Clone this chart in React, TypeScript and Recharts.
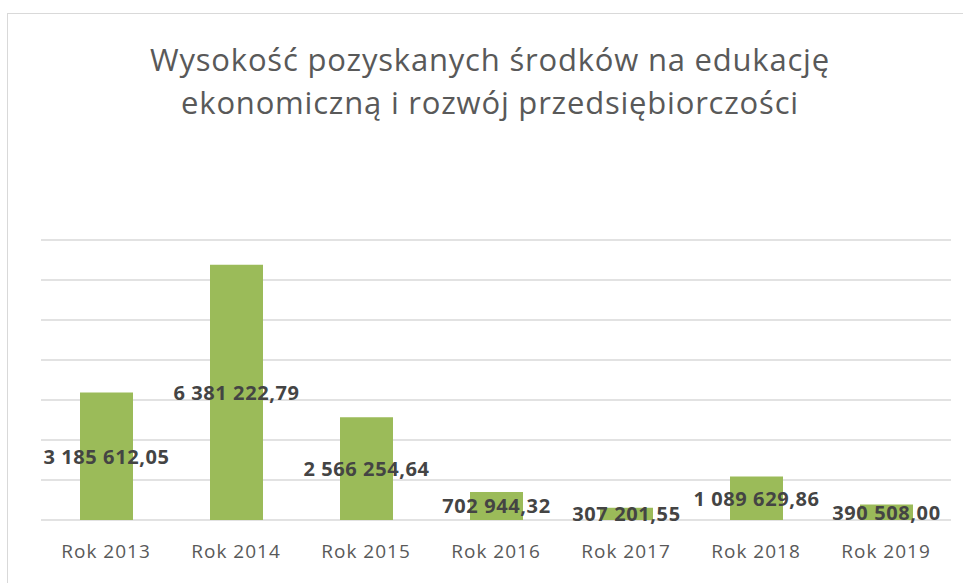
import { Bar, BarChart, CartesianGrid, LabelList, XAxis, YAxis } from "recharts";

const years = ["Rok 2013", "Rok 2014", "Rok 2015", "Rok 2016", "Rok 2017", "Rok 2018", "Rok 2019"];
const amounts = [3185612.05, 6381222.79, 2566254.64, 702944.32, 307201.55, 1089629.86, 390508.0];
const yTicks = [0, 1000000, 2000000, 3000000, 4000000, 5000000, 6000000, 7000000];

const data = years.map((year, i) => ({ year, amount: amounts[i] }));

const formatPl = (v: number) => {
  const [int, dec] = v.toFixed(2).split(".");
  return `${int.replace(/\B(?=(\d{3})+(?!\d))/g, " ")},${dec}`;
};

const font = "'Open Sans', 'Noto Sans', sans-serif";

// centred value label, drawn by hand so recharts doesn't wrap it to bar width
const CenterLabel = (props: any) => {
  const { x, y, width, height, value } = props;
  return (
    <text
      x={Number(x) + Number(width) / 2}
      y={Number(y) + Number(height) / 2}
      textAnchor="middle"
      dominantBaseline="central"
      fontSize={20}
      fontWeight={700}
      fill="#444"
      fontFamily={font}
      letterSpacing={0.6}
    >
      {formatPl(Number(value))}
    </text>
  );
};

export default function App() {
  return (
    <div
      style={{
        position: "absolute",
        left: 0,
        top: 0,
        width: 963,
        height: 583,
        background: "#fff",
        overflow: "hidden",
        fontFamily: font,
      }}
    >
      <div
        style={{
          position: "absolute",
          left: 7,
          top: 13,
          width: 1000,
          height: 600,
          border: "1px solid #d9d9d9",
        }}
      />
      <div
        style={{
          position: "absolute",
          left: 0,
          top: 38,
          width: 980,
          textAlign: "center",
          fontSize: 31,
          lineHeight: "43px",
          color: "#595959",
          letterSpacing: 0.8,
        }}
      >
        Wysokość pozyskanych środków na edukację
        <br />
        ekonomiczną i rozwój przedsiębiorczości
      </div>
      <div style={{ position: "absolute", left: 0, top: 0 }}>
        <BarChart
          width={963}
          height={583}
          data={data}
          margin={{ top: 240, right: 12, bottom: 23, left: 41 }}
        >
          <CartesianGrid vertical={false} stroke="#d9d9d9" strokeWidth={1.5} />
          <XAxis
            dataKey="year"
            height={40}
            axisLine={false}
            tickLine={false}
            tickSize={0}
            tickMargin={25}
            tick={{ fontSize: 19, fill: "#595959", fontFamily: font, letterSpacing: 1 }}
          />
          <YAxis hide domain={[0, 7000000]} ticks={yTicks} />
          <Bar dataKey="amount" fill="#9bbb59" barSize={53} isAnimationActive={false}>
            <LabelList dataKey="amount" content={CenterLabel} />
          </Bar>
        </BarChart>
      </div>
    </div>
  );
}
